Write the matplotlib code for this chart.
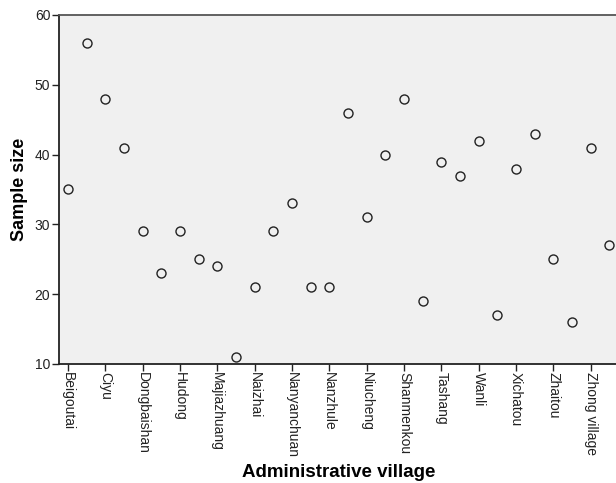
import matplotlib
matplotlib.use('Agg')
import matplotlib.pyplot as plt
import numpy as np

# sample size per administrative village (30 villages, every other one labelled)
sample_size = [35, 56, 48, 41, 29, 23, 29, 25, 24, 11,
               21, 29, 33, 21, 21, 46, 31, 40, 48, 19,
               39, 37, 42, 17, 38, 43, 25, 16, 41, 27]
tick_labels = ['Beigoutai', 'Ciyu', 'Dongbaishan', 'Hudong', 'Majiazhuang',
               'Naizhai', 'Nanyanchuan', 'Nanzhule', 'Niucheng', 'Shanmenkou',
               'Tashang', 'Wanli', 'Xichatou', 'Zhaitou', 'Zhong village']
y_ticks = [10, 20, 30, 40, 50, 60]

plt.rcParams['font.family'] = ['Liberation Sans', 'DejaVu Sans']

fig = plt.figure(figsize=(6.16, 4.83), dpi=100)
ax = fig.add_axes([0.0953, 0.2464, 0.9091, 0.7226])
ax.set_facecolor('#f0f0f0')

x = np.arange(len(sample_size))
ax.plot(x, sample_size, linestyle='none', marker='o', markersize=6.5,
        markerfacecolor='none', markeredgecolor='#222222', markeredgewidth=1.0)

ax.set_xlim(-0.5, len(sample_size) - 0.5)
ax.set_ylim(10, 60)
ax.set_yticks(y_ticks)
ax.set_xticks(x[::2])
ax.set_xticklabels(tick_labels, rotation=-90, fontsize=10, va='top', ha='center')
ax.tick_params(axis='y', labelsize=10, length=5, width=1, pad=1, colors='#222222')
ax.tick_params(axis='x', length=5, width=1, pad=1, colors='#222222')

for s in ['left', 'bottom']:
    ax.spines[s].set_linewidth(1.3)
    ax.spines[s].set_color('#222222')
ax.spines['top'].set_linewidth(1.3)
ax.spines['top'].set_color('#555555')
ax.spines['right'].set_visible(False)

ax.set_ylabel('Sample size', fontsize=13, fontweight='bold', labelpad=5)
ax.set_xlabel('Administrative village', fontsize=13.5, fontweight='bold', labelpad=4)

fig.savefig('out.png', dpi=100)
